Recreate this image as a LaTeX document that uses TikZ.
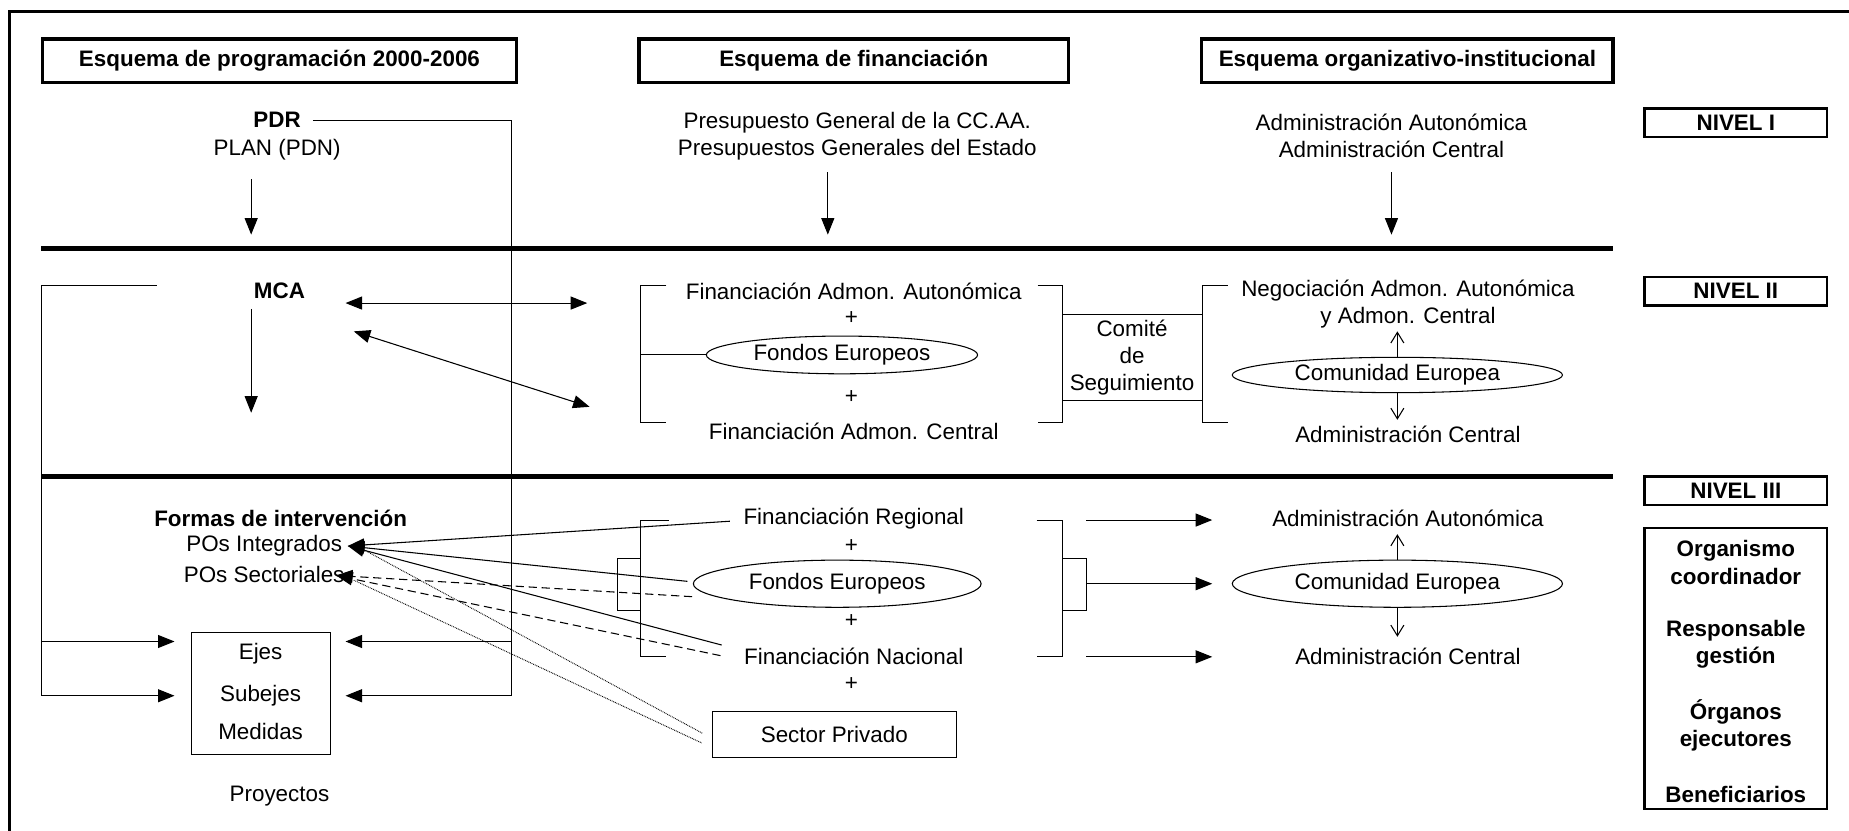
\documentclass[tikz,border=0pt]{standalone}
\usepackage{fontspec}
\setmainfont{Liberation Sans}
\usetikzlibrary{arrows.meta,shapes.geometric}
\begin{document}
\begin{tikzpicture}[x=1pt,y=-1pt,
  every node/.style={inner sep=0pt,font=\fontsize{19}{23}\selectfont},
  bt/.style={font=\fontsize{19}{23}\selectfont\bfseries},
  hdr/.style={draw,line width=3pt,minimum height=37pt,font=\fontsize{19}{23}\selectfont\bfseries},
  lvl/.style={draw,line width=2pt,minimum width=155pt,minimum height=24pt,font=\fontsize{19}{23}\selectfont\bfseries},
  rulebar/.style={line width=4pt},
  thin/.style={line width=0.9pt},
  arr/.style={line width=0.9pt,-{Triangle[length=14pt,width=11pt]}},
  darr/.style={line width=0.9pt,{Triangle[length=14pt,width=11pt]}-{Triangle[length=14pt,width=11pt]}},
  oarr/.style={line width=0.9pt,-{Straight Barb[length=9pt,width=11pt]}},
  ell/.style={draw,ellipse,line width=0.9pt,inner sep=0pt},
  boxn/.style={draw,line width=0.9pt},
  dotl/.style={line width=0.8pt,dash pattern=on 0.7pt off 0.8pt}
]
\useasboundingbox (0,0) rectangle (1568,704);
\draw[line width=2.5pt] (8,10) rectangle (1580,720);

% headers
\node[hdr,minimum width=402pt] (h1) at (237,51.5) {Esquema de programación 2000-2006};
\node[hdr,minimum width=364pt] (h2) at (724,51.5) {Esquema de financiación};
\node[hdr,minimum width=349pt] (h3) at (1193.5,51.5) {Esquema organizativo-institucional};

% level boxes
\node[lvl] (n1) at (1472,104) {NIVEL I};
\node[lvl] (n2) at (1472,247) {NIVEL II};
\node[lvl] (n3) at (1472,416) {NIVEL III};
\node[draw,line width=2pt,minimum width=155pt,minimum height=238pt] (nb) at (1472,567) {};
\node[bt,align=center] (org) at (1472,477) {Organismo\\coordinador};
\node[bt,align=center] (resp) at (1472,546) {Responsable\\gestión};
\node[bt,align=center] (orgn) at (1472,615) {Órganos\\ejecutores};
\node[bt] (benef) at (1472,674) {Beneficiarios};

% thick rules
\coordinate (r1a) at (35,211); \coordinate (r1b) at (1368,211);
\coordinate (r2a) at (35,404); \coordinate (r2b) at (1368,404);
\draw[rulebar] (r1a) -- (r1b);
\draw[rulebar] (r2a) -- (r2b);

% ---------- Level I
\node[bt] (pdr) at (235,102) {PDR};
\node (plan) at (235,127) {PLAN (PDN)};
\coordinate (a1s) at (213,152); \coordinate (a1e) at (213,199);
\draw[arr] (a1s) -- (a1e);
\coordinate (vtop) at (434,102); \coordinate (vbot) at (434,590);
\coordinate (vmid) at (434,544);
\draw[thin] ([xshift=10pt]pdr.east) -- (vtop) -- (vbot);

\node (pg1) at (727,104) {Presupuesto General de la CC.AA.};
\node (pg2) at (727,127) {Presupuestos Generales del Estado};
\coordinate (a2s) at (702,146); \coordinate (a2e) at (702,199);
\draw[arr] (a2s) -- (a2e);

\node (ad1) at (1180,104) {Administración Autonómica};
\node (ad2) at (1180,127) {Administración Central};
\coordinate (a3s) at (1180,146); \coordinate (a3e) at (1180,199);
\draw[arr] (a3s) -- (a3e);

% ---------- Level II
\node[bt] (mca) at (237,247) {MCA};
\coordinate (a4s) at (213,262); \coordinate (a4e) at (213,350);
\draw[arr] (a4s) -- (a4e);
\coordinate (lbt) at (133,242); \coordinate (lbc) at (35,242); \coordinate (lbb) at (35,590);
\coordinate (lbm) at (35,544);
\draw[thin] (lbt) -- (lbc) -- (lbb);

\coordinate (d1a) at (293,257); \coordinate (d1b) at (498,257);
\draw[darr] (d1a) -- (d1b);
\coordinate (d2a) at (300,281); \coordinate (d2b) at (500,345);
\draw[darr] (d2a) -- (d2b);

\node (fa) at (724,247) {Financiación Admon. Autonómica};
\node (p1) at (722,270) {+};
\node[ell,minimum width=230pt,minimum height=32pt] (fe1) at (714,301) {Fondos Europeos};
\node (p2) at (722,337) {+};
\node (fc) at (724,366) {Financiación Admon. Central};
\draw[thin] (565,242) -- (543,242) -- (543,358) -- (565,358);
\coordinate (bm1) at (543,301);
\draw[thin] (bm1) -- (fe1.west);
\draw[thin] (880,242) -- (901,242) -- (901,358) -- (880,358);
\draw[thin] (1041,242) -- (1020,242) -- (1020,358) -- (1041,358);
\draw[thin] (901,267) -- (1020,267);
\draw[thin] (901,340) -- (1020,340);
\node[align=center] (com) at (960,303) {Comité\\de\\Seguimiento};

\node (neg1) at (1194,246) {Negociación Admon. Autonómica};
\node (neg2) at (1194,269) {y Admon. Central};
\node[ell,minimum width=280pt,minimum height=30pt] (ce1) at (1185,318) {Comunidad Europea};
\node (ac1) at (1194,368) {Administración Central};
\coordinate (u1) at (1185,281); \coordinate (dn1) at (1185,356);
\draw[oarr] (ce1.north) -- (u1);
\draw[oarr] (ce1.south) -- (dn1);

% ---------- Level III
\node[bt] (formas) at (238,440) {Formas de intervención};
\node (poi) at (224,463) {POs Integrados};
\node (pos) at (224,487) {POs Sectoriales};
\node[boxn,minimum width=118pt,minimum height=104pt] (ejes) at (221,588) {};
\node (ej1) at (221,554) {Ejes};
\node (ej2) at (221,590) {Subejes};
\node (ej3) at (221,620) {Medidas};
\node (proy) at (237,675) {Proyectos};

\coordinate (eL1) at (148,544); \coordinate (eL2) at (148,590);
\coordinate (eR1) at (293,544); \coordinate (eR2) at (293,590);
\draw[arr] (lbm) -- (eL1);
\draw[arr] (lbb) -- (eL2);
\draw[arr] (vmid) -- (eR1);
\draw[arr] (vbot) -- (eR2);

\node (fr) at (724,440) {Financiación Regional};
\node (p3) at (722,463) {+};
\node[ell,minimum width=244pt,minimum height=40pt] (fe2) at (710,495) {Fondos Europeos};
\node (p4) at (722,527) {+};
\node (fn) at (724,557) {Financiación Nacional};
\node (p5) at (722,580) {+};
\node[boxn,minimum width=207pt,minimum height=39pt] (sp) at (707.5,622.5) {Sector Privado};

\draw[thin] (567,441) -- (543,441) -- (543,557) -- (565,557);
\draw[thin] (543,474) -- (524,474) -- (524,518) -- (543,518);
\draw[thin] (879,441) -- (901,441) -- (901,557) -- (879,557);
\draw[thin] (901,474) -- (921,474) -- (921,518) -- (901,518);

\node (aa3) at (1194,440) {Administración Autonómica};
\node[ell,minimum width=280pt,minimum height=40pt] (ce2) at (1185,495) {Comunidad Europea};
\node (ac3) at (1194,557) {Administración Central};
\coordinate (t1) at (921,441); \coordinate (t2) at (921,495); \coordinate (t3) at (921,557);
\coordinate (h1e) at (1028,441); \coordinate (h2e) at (1028,495); \coordinate (h3e) at (1028,557);
\draw[arr] (t1) -- (h1e);
\draw[arr] (t2) -- (h2e);
\draw[arr] (t3) -- (h3e);
\coordinate (u3) at (1185,453); \coordinate (dn3) at (1185,540);
\draw[oarr] (ce2.north) -- (u3);
\draw[oarr] (ce2.south) -- (dn3);

% lines to POs
\coordinate (poiT) at (295,463); \coordinate (posT) at (285,488);
\coordinate (s1) at (619,442); \coordinate (s2) at (583,493); \coordinate (s3) at (612,547);
\coordinate (q1) at (587,506); \coordinate (q2) at (611,556);
\draw[arr] (s1) -- (poiT);
\draw[arr] (s2) -- (poiT);
\draw[arr] (s3) -- (poiT);
\draw[arr,dash pattern=on 7pt off 4pt] (q1) -- (posT);
\draw[arr,dash pattern=on 7pt off 4pt] (q2) -- (posT);
\coordinate (o1) at (310,467); \coordinate (o2) at (300,492);
\coordinate (z1) at (596,622); \coordinate (z2) at (595,630);
\draw[dotl] (o1) -- (z1);
\draw[dotl] (o2) -- (z2);
\end{tikzpicture}
\end{document}
